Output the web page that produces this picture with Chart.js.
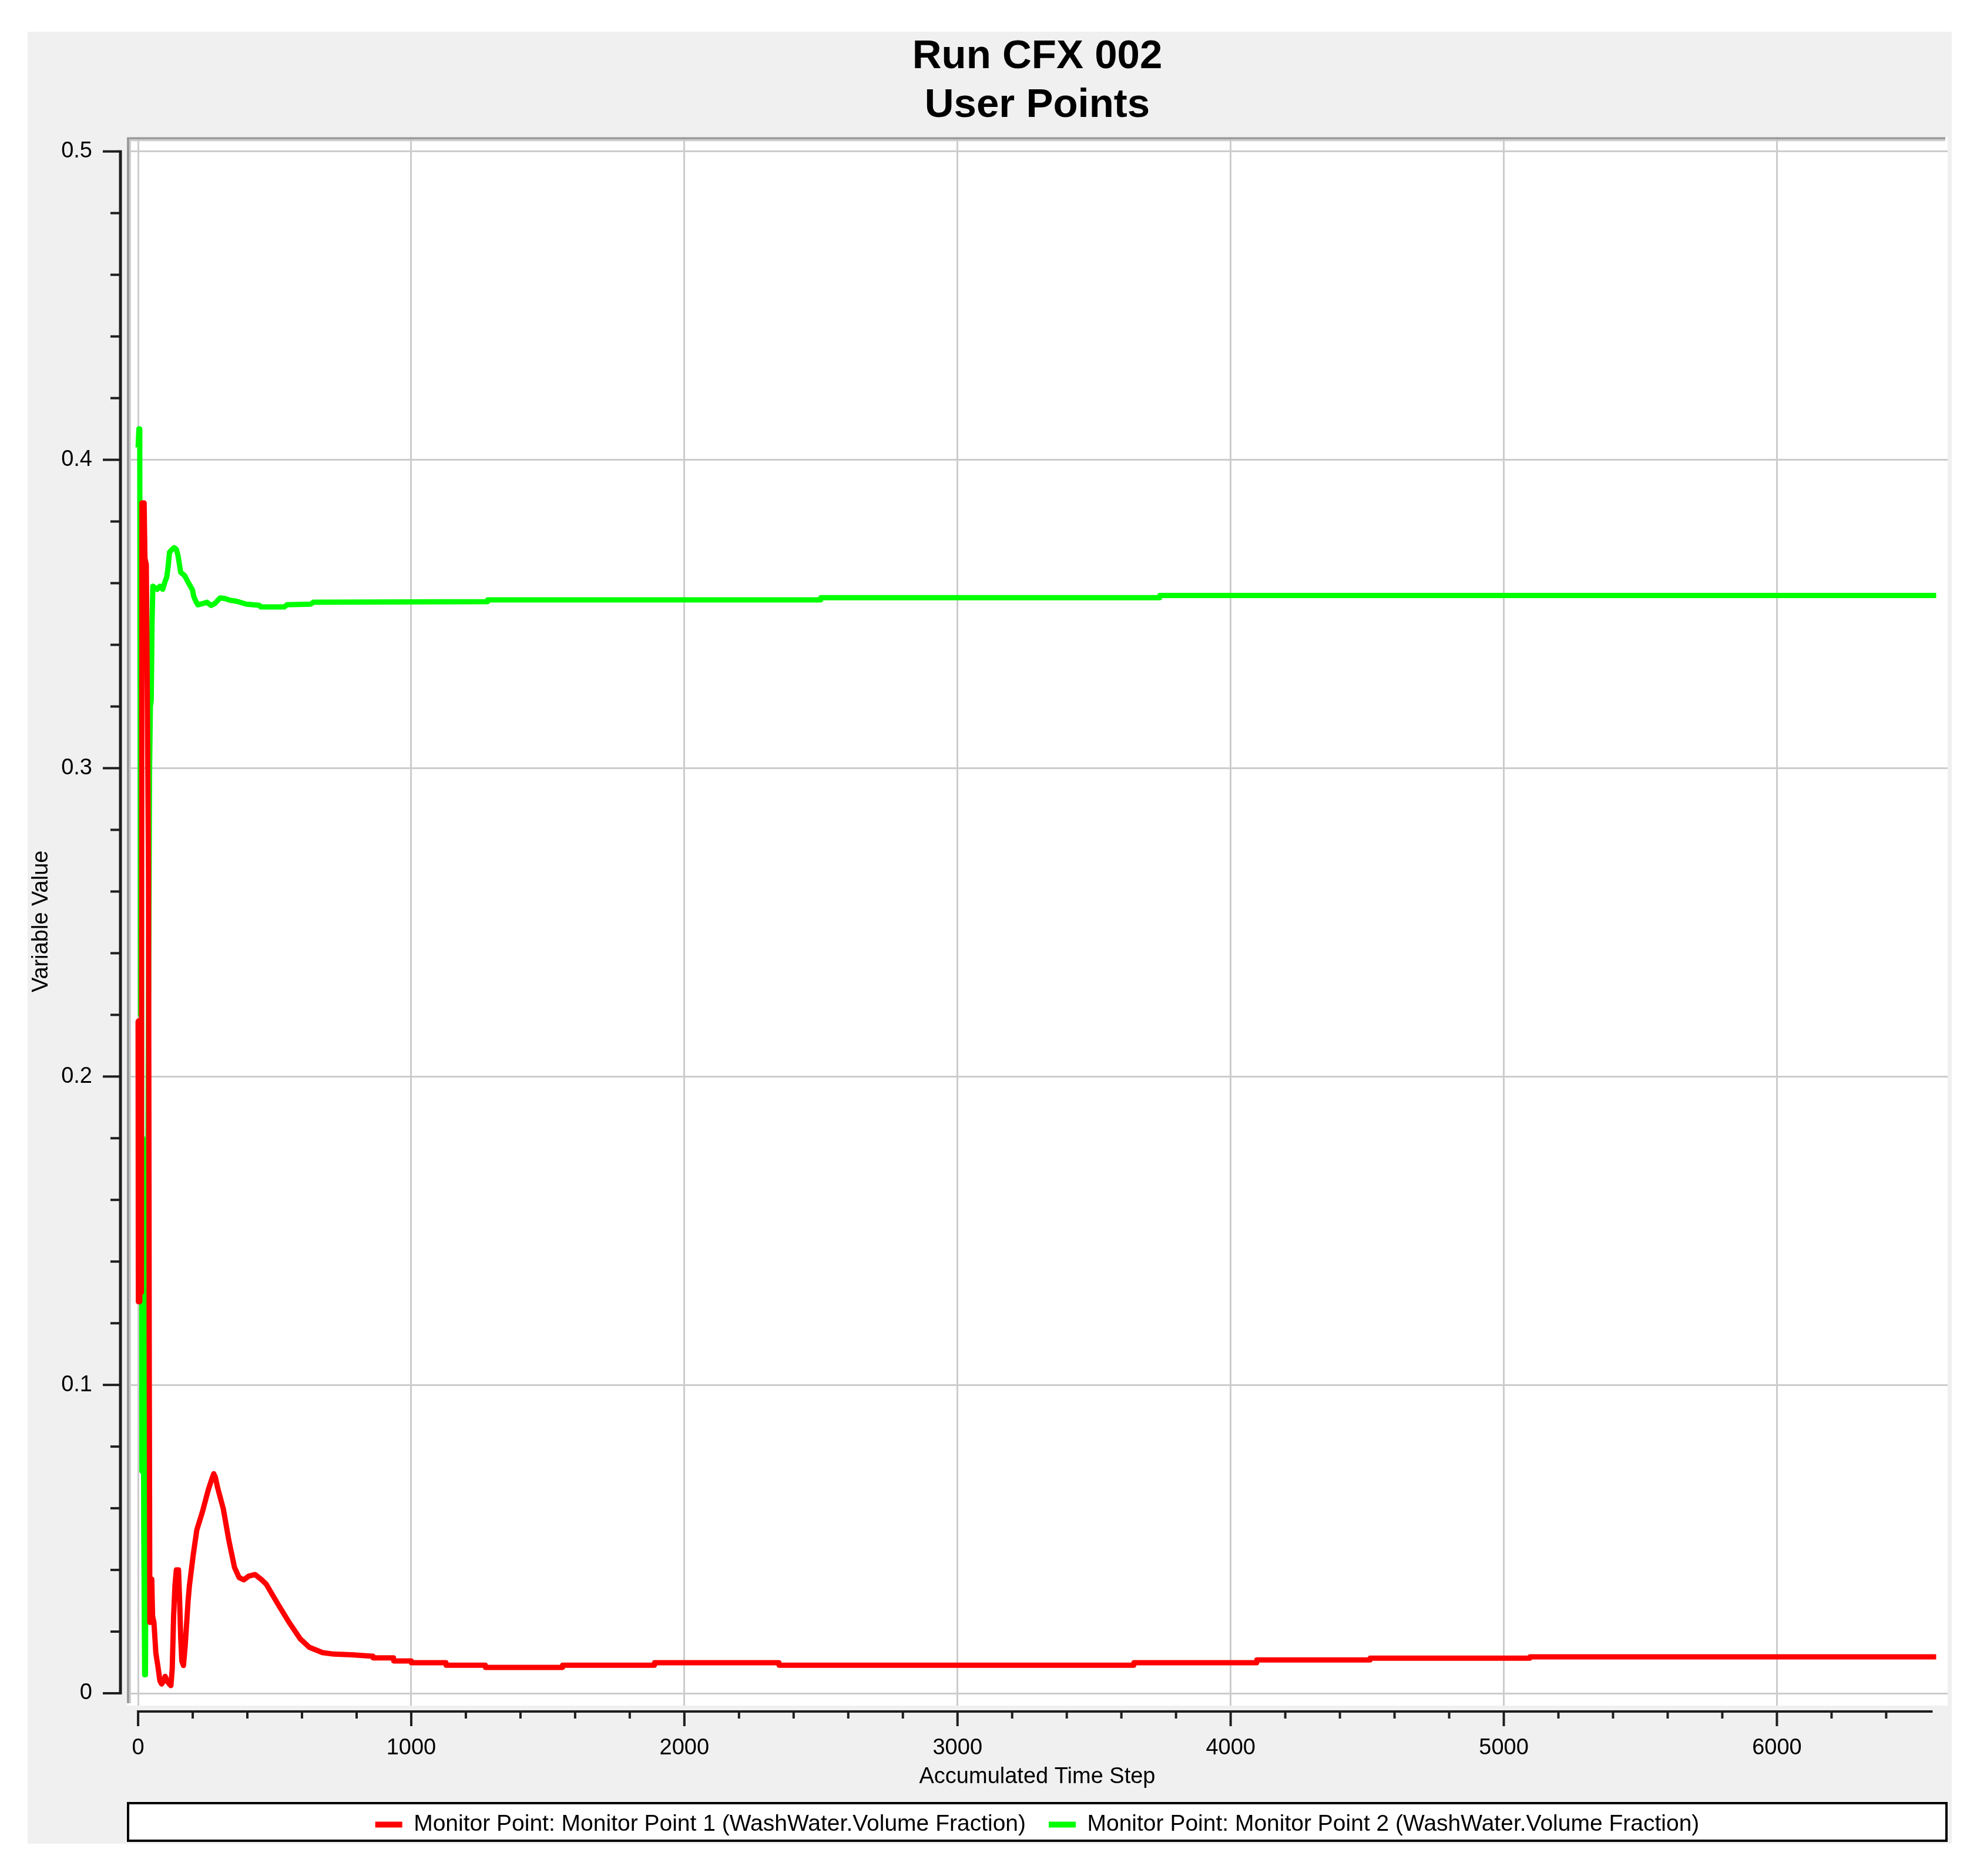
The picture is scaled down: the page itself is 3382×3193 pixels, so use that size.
<!DOCTYPE html>
<html>
<head>
<meta charset="utf-8">
<title>Run CFX 002 - User Points</title>
<script src="https://cdn.jsdelivr.net/npm/chart.js@4.4.1/dist/chart.umd.min.js"></script>
<style>
html,body{margin:0;padding:0;background:#fff;}
#panel{position:absolute;left:47px;top:54px;width:3275px;height:3084px;background:#f0f0f0;}
</style>
</head>
<body>
<div id="panel"><canvas id="myChart"></canvas></div>
<script>
var titleLines=["Run CFX 002","User Points"];
var xTitle="Accumulated Time Step";
var yTitle="Variable Value";
var seriesNames=["Monitor Point: Monitor Point 1 (WashWater.Volume Fraction)","Monitor Point: Monitor Point 2 (WashWater.Volume Fraction)"];

// tick labels
var xTickValues=[0,1000,2000,3000,4000,5000,6000];
var yTickValues=[0,0.1,0.2,0.3,0.4,0.5];

// monitor point 1 (red)
var redSteps=[0,1,4,6,9,12,14,22,25,30,34,38,41,43,45,50,53,58,65,72,80,86,94,99,106,114,120,125,130,135,140,148,152,156,160,166,172,178,183,188,195,202,215,236,257,270,277,283,291,312,332,353,370,387,405,428,450,469,510,552,593,627,675,716,783,859,860,935,936,1000,1001,1127,1128,1271,1272,1553,1554,1890,1891,2346,2347,3645,3646,4095,4096,4510,4511,5095,5096,6583];
var redValues=[0.218,0.127,0.165,0.127,0.19,0.13,0.386,0.386,0.368,0.366,0.32,0.267,0.10,0.023,0.037,0.037,0.025,0.023,0.013,0.009,0.004,0.003,0.004,0.0055,0.004,0.003,0.0025,0.008,0.025,0.035,0.040,0.040,0.030,0.018,0.0105,0.009,0.015,0.023,0.030,0.035,0.040,0.045,0.053,0.059,0.066,0.0695,0.0712,0.0700,0.0667,0.0598,0.0497,0.0408,0.0375,0.0368,0.0380,0.0385,0.0370,0.0354,0.0292,0.0231,0.0177,0.0149,0.0132,0.0127,0.0125,0.0120,0.0115,0.0115,0.0105,0.0105,0.0099,0.0099,0.0091,0.0091,0.0084,0.0084,0.0091,0.0091,0.0099,0.0099,0.0091,0.0091,0.0099,0.0099,0.0108,0.0108,0.0114,0.0114,0.0118,0.0118];

// monitor point 2 (green)
var greenSteps=[0,3,6,9,11,14,17,21,24,27,30,33,37,42,45,48,51,54,70,80,90,99,105,110,115,125,132,140,146,150,156,170,185,199,204,212,219,238,252,267,281,300,319,334,362,396,444,449,536,545,632,641,1279,1280,2499,2500,3740,3741,6583];
var greenValues=[0.404,0.41,0.41,0.22,0.33,0.072,0.18,0.05,0.006,0.006,0.10,0.083,0.20,0.30,0.32,0.322,0.347,0.359,0.358,0.359,0.358,0.3606,0.362,0.3654,0.370,0.371,0.3715,0.371,0.369,0.3668,0.3635,0.3625,0.360,0.3578,0.3556,0.354,0.353,0.3534,0.3538,0.3528,0.3534,0.3552,0.355,0.3545,0.3541,0.3532,0.3528,0.3523,0.3523,0.353,0.3532,0.3538,0.3540,0.3546,0.3546,0.3553,0.3553,0.3560,0.3560];

var xMin=-41, xMax=6625, xMinor=200, xAxisEnd=6570;
var yMin=-0.004, yMax=0.5046, yMinor=0.02, yTop=0.5;

function toPoints(xs,ys){
    var pts=[];
    for(var i=0;i<xs.length;i++){
        pts.push({x:xs[i],y:ys[i]});
    }
    return pts;
}

var fontName="'Liberation Sans', Arial, sans-serif";
var legendGap=20; // legend padding is also the gap between items, so the framed box skips the top part

// white plot box with sunken border, legend box, outside axes
var framePlugin={
    id:"frame",
    beforeDraw:function(chart){
        var ctx=chart.ctx, a=chart.chartArea, lg=chart.legend;
        ctx.save();
        ctx.fillStyle="#ffffff";
        ctx.fillRect(a.left,a.top,a.right-a.left,a.bottom-a.top);
        if(lg){
            var top=lg.top+legendGap;
            ctx.fillRect(lg.left,top,lg.width,lg.bottom-top);
            ctx.strokeStyle="#000000";
            ctx.lineWidth=4;
            ctx.strokeRect(lg.left+2,top+2,lg.width-4,lg.bottom-top-4);
        }
        ctx.restore();
    },
    beforeDatasetsDraw:function(chart){
        var ctx=chart.ctx, a=chart.chartArea;
        ctx.save();
        ctx.lineWidth=4;
        ctx.strokeStyle="#9a9a9a";
        ctx.beginPath();
        ctx.moveTo(a.left+2,a.bottom-4);
        ctx.lineTo(a.left+2,a.top+2);
        ctx.lineTo(a.right-4,a.top+2);
        ctx.stroke();
        ctx.lineWidth=3;
        ctx.strokeStyle="#cfcfcf";
        ctx.beginPath();
        ctx.moveTo(a.left+5.5,a.bottom-4);
        ctx.lineTo(a.left+5.5,a.top+5.5);
        ctx.lineTo(a.right-4,a.top+5.5);
        ctx.stroke();
        ctx.restore();
    },
    afterDraw:function(chart){
        var ctx=chart.ctx, a=chart.chartArea;
        var xs=chart.scales.x, ys=chart.scales.y;
        ctx.save();
        ctx.strokeStyle="#1e1e1e";
        ctx.lineCap="butt";
        // y axis
        var ax=a.left-11;
        ctx.lineWidth=5;
        ctx.beginPath();
        ctx.moveTo(ax,ys.getPixelForValue(yTop)-2);
        ctx.lineTo(ax,ys.getPixelForValue(0)+2);
        ctx.stroke();
        ctx.lineWidth=4;
        var n=Math.round(yTop/yMinor);
        for(var k=0;k<=n;k++){
            var py=ys.getPixelForValue(k*yMinor);
            var len=(k%5===0)?30:17;
            ctx.beginPath();
            ctx.moveTo(ax,py);
            ctx.lineTo(ax-len,py);
            ctx.stroke();
        }
        // x axis
        var ay=a.bottom+10;
        ctx.lineWidth=4;
        ctx.beginPath();
        ctx.moveTo(xs.getPixelForValue(0)-2,ay);
        ctx.lineTo(xs.getPixelForValue(xAxisEnd),ay);
        ctx.stroke();
        for(var v=0;v<=xAxisEnd;v+=xMinor){
            var px=xs.getPixelForValue(v);
            var l2=(v%1000===0)?25:12;
            ctx.beginPath();
            ctx.moveTo(px,ay);
            ctx.lineTo(px,ay+l2);
            ctx.stroke();
        }
        ctx.restore();
    }
};

var ctx=document.getElementById("myChart").getContext("2d");
var myChart=new Chart(ctx,{
    type:"line",
    data:{
        datasets:[
            {
                label:seriesNames[0],
                data:toPoints(redSteps,redValues),
                borderColor:"#ff0000",
                backgroundColor:"#ff0000",
                borderWidth:9,
                pointRadius:0,
                tension:0,
                borderJoinStyle:"round",
                fill:false
            },
            {
                label:seriesNames[1],
                data:toPoints(greenSteps,greenValues),
                borderColor:"#00ff00",
                backgroundColor:"#00ff00",
                borderWidth:9,
                pointRadius:0,
                tension:0,
                borderJoinStyle:"round",
                fill:false
            }
        ]
    },
    options:{
        responsive:true,
        maintainAspectRatio:false,
        devicePixelRatio:1,
        animation:false,
        events:[],
        layout:{padding:{left:0,right:7,top:0,bottom:3}},
        plugins:{
            title:{
                display:true,
                text:titleLines,
                fullSize:false,
                color:"#000000",
                font:{family:fontName,size:69,weight:"bold",lineHeight:1.2},
                padding:{top:2,bottom:12}
            },
            legend:{
                display:true,
                position:"bottom",
                fullSize:false,
                labels:{
                    color:"#000000",
                    font:{family:fontName,size:39},
                    boxWidth:46,
                    boxHeight:10,
                    padding:39,
                    generateLabels:function(chart){
                        var items=Chart.defaults.plugins.legend.labels.generateLabels(chart);
                        items.forEach(function(it){
                            it.fillStyle=it.strokeStyle;
                            it.lineWidth=0;
                        });
                        return items;
                    }
                }
            },
            tooltip:{enabled:false}
        },
        scales:{
            x:{
                type:"linear",
                min:xMin,
                max:xMax,
                afterBuildTicks:function(scale){
                    scale.ticks=xTickValues.map(function(v){ return {value:v}; });
                },
                afterFit:function(scale){ scale.height=144; },
                grid:{color:"#cccccc",lineWidth:3,drawTicks:false},
                border:{display:false},
                ticks:{
                    maxRotation:0,
                    autoSkip:false,
                    padding:50,
                    color:"#000000",
                    font:{family:fontName,size:38},
                    callback:function(v){ return String(v); }
                },
                title:{
                    display:true,
                    text:xTitle,
                    color:"#000000",
                    font:{family:fontName,size:38},
                    padding:{top:0,bottom:0}
                }
            },
            y:{
                type:"linear",
                min:yMin,
                max:yMax,
                afterBuildTicks:function(scale){
                    scale.ticks=yTickValues.map(function(v){ return {value:v}; });
                },
                afterFit:function(scale){ scale.width=169; },
                grid:{color:"#cccccc",lineWidth:3,drawTicks:false},
                border:{display:false},
                ticks:{
                    autoSkip:false,
                    padding:59,
                    color:"#000000",
                    font:{family:fontName,size:38},
                    callback:function(v){ return String(Math.round(v*10)/10); }
                },
                title:{
                    display:true,
                    text:yTitle,
                    color:"#000000",
                    font:{family:fontName,size:38},
                    padding:{top:1,bottom:0}
                }
            }
        }
    },
    plugins:[framePlugin]
});
</script>
</body>
</html>
